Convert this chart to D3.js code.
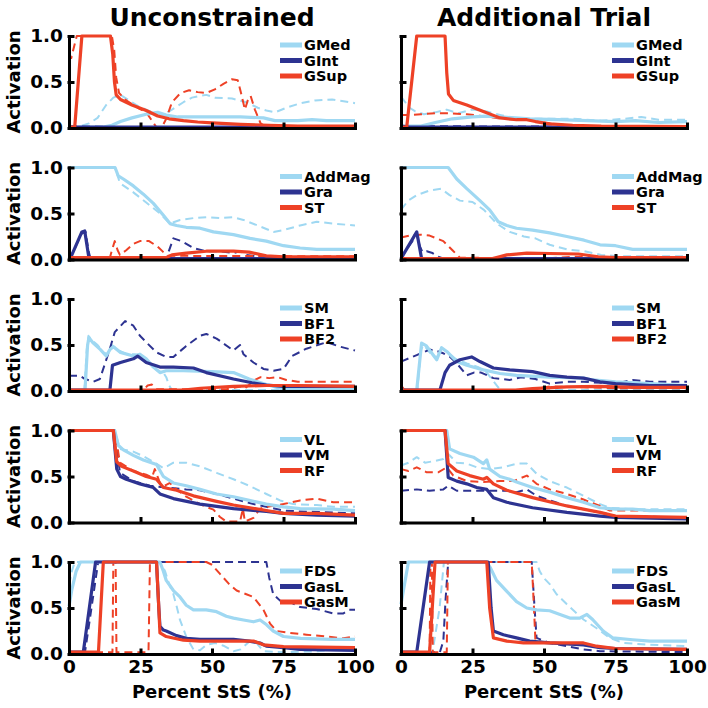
<!DOCTYPE html>
<html><head><meta charset="utf-8">
<script src="https://cdn.jsdelivr.net/npm/d3@7"></script>
<style>body{margin:0;background:#fff}svg{display:block}text{font-family:"DejaVu Sans",sans-serif;font-weight:bold;fill:#000}</style>
</head><body><svg id="c" width="708" height="708"></svg>
<script>
// ---------- categories / ticks ----------
const conditions = ["Unconstrained", "Additional Trial"];
const muscleRows = [["GMed","GInt","GSup"],["AddMag","Gra","ST"],["SM","BF1","BF2"],["VL","VM","RF"],["FDS","GasL","GasM"]];
const xTicks = [0,25,50,75,100];
const yTicks = [0,0.5,1.0];
const xLabel = "Percent StS (%)";
const yLabel = "Activation";

// ---------- data: [percent StS, activation] (s = solid, d = dashed) ----------
// Row 1 Unconstrained
const U_GMed_s=[[0,0.01],[12,0.01],[15,0.03],[18,0.07],[22,0.11],[27,0.15],[31,0.17],[34,0.14],[38,0.12],[50,0.12],[60,0.12],[68,0.11],[72,0.08],[80,0.08],[85,0.09],[90,0.08],[100,0.08]];
const U_GMed_d=[[0,0.01],[3,0.01],[7,0.05],[10,0.11],[13,0.25],[15.5,0.33],[18,0.36],[21,0.3],[24,0.24],[27,0.2],[30,0.16],[33,0.14],[36,0.2],[40,0.28],[43,0.33],[46,0.35],[48,0.36],[51,0.33],[57,0.32],[62,0.28],[66,0.22],[69,0.19],[72,0.17],[76,0.22],[81,0.27],[86,0.3],[92,0.31],[96,0.29],[100,0.27]];
const U_GInt_s=[[0,0.01],[100,0.01]];
const U_GInt_d=[[0,0.02],[20,0.01],[100,0.01]];
const U_GSup_s=[[0,0.01],[2,0.01],[4.5,1],[14.5,1],[15.3,0.8],[15.9,0.5],[16.5,0.36],[18,0.31],[22,0.25],[27,0.19],[31,0.13],[35,0.1],[40,0.08],[45,0.065],[50,0.055],[60,0.04],[70,0.03],[80,0.02],[100,0.02]];
const U_GSup_d=[[0,0.82],[0.8,0.76],[1.5,0.85],[2.7,1],[15,1],[15.8,0.85],[16.5,0.55],[17.5,0.38],[20,0.3],[24,0.22],[27,0.17],[29,0.08],[30.5,0.01],[32.5,0.01],[34,0.1],[36,0.28],[39,0.38],[42,0.41],[45,0.39],[48,0.38],[51,0.42],[54,0.48],[57,0.53],[59,0.52],[60,0.4],[61.5,0.2],[62.5,0.3],[63.5,0.35],[65,0.2],[67,0.05],[68.5,0.02],[100,0.02]];
// Row 1 Additional
const A_GMed_s=[[0,0.02],[7,0.02],[12,0.06],[18,0.1],[25,0.12],[30,0.13],[35,0.12],[40,0.11],[45,0.1],[55,0.09],[65,0.08],[75,0.07],[82,0.08],[90,0.06],[100,0.07]];
const A_GMed_d=[[0,0.34],[1.5,0.28],[3,0.22],[5,0.18],[8,0.15],[12,0.17],[16,0.2],[20,0.16],[25,0.2],[30,0.18],[35,0.14],[40,0.1],[50,0.1],[60,0.1],[70,0.08],[78,0.1],[84,0.12],[90,0.09],[100,0.09]];
const A_GInt_s=[[0,0.02],[3,0.01],[100,0.01]];
const A_GInt_d=[[0,0.02],[100,0.01]];
const A_GSup_s=[[0,0.01],[2,0.01],[5.5,1],[15.4,1],[16,0.6],[16.6,0.37],[18.3,0.3],[23,0.25],[28.8,0.18],[34.6,0.11],[40.4,0.09],[44,0.09],[47,0.07],[52,0.045],[60,0.03],[70,0.02],[100,0.015]];
const A_GSup_d=[[0,0.14],[3,0.14],[7,0.15],[12,0.16],[17,0.16],[23,0.15],[31,0.12],[35,0.1],[43,0.09],[46,0.08],[52,0.05],[58,0.03],[65,0.02],[100,0.02]];
// Row 2 Unconstrained
const U_AddMag_s=[[0,1],[16.1,1],[17.2,0.91],[19,0.875],[22.5,0.8],[26,0.71],[29.5,0.61],[33,0.48],[35.3,0.39],[37.6,0.37],[41,0.35],[45.8,0.34],[50.5,0.3],[57.5,0.27],[63.3,0.23],[69,0.2],[75,0.15],[80.8,0.125],[86.6,0.11],[100,0.11]];
const U_AddMag_d=[[0,1],[16.1,1],[17.8,0.83],[22.5,0.73],[27,0.62],[31.8,0.5],[35.3,0.39],[38.8,0.43],[43.5,0.45],[48,0.46],[52.8,0.45],[57.5,0.46],[61,0.43],[66.8,0.36],[71.5,0.3],[75,0.32],[80.8,0.37],[86.6,0.41],[92.4,0.39],[100,0.37]];
const U_Gra_s=[[0,0.01],[1,0.05],[4.5,0.3],[5.5,0.31],[6.3,0.15],[7,0.01],[100,0.01]];
const U_Gra_d=[[0,0.01],[1,0.05],[4.3,0.28],[5.8,0.3],[6.8,0.1],[7.5,0.01],[34,0.01],[35,0.1],[36.5,0.23],[39.4,0.2],[43.5,0.125],[48,0.09],[52.8,0.09],[57.5,0.07],[59.8,0.09],[62,0.05],[69,0.02],[100,0.02]];
const U_ST_s=[[0,0.02],[34,0.02],[36,0.05],[41,0.07],[48,0.09],[57.5,0.09],[63,0.08],[69,0.04],[75,0.03],[100,0.03]];
const U_ST_d=[[0,0.02],[14.3,0.02],[15,0.1],[16,0.2],[17,0.1],[17.8,0.05],[20,0.1],[22.5,0.17],[24.8,0.2],[28,0.2],[31,0.14],[33,0.08],[34.5,0.04],[100,0.035]];
// Row 2 Additional
const A_AddMag_s=[[0,1],[16.5,1],[19.5,0.875],[23,0.77],[27.6,0.64],[31,0.54],[34,0.41],[37,0.37],[40.4,0.34],[46,0.32],[52,0.29],[58,0.25],[64,0.21],[69.6,0.16],[75,0.15],[81,0.11],[87,0.11],[100,0.11]];
const A_AddMag_d=[[0,0.54],[2.5,0.64],[5.5,0.7],[10,0.75],[14,0.77],[17,0.7],[20.6,0.64],[25,0.625],[29,0.54],[33.5,0.39],[38,0.3],[43,0.25],[47,0.23],[52,0.16],[58,0.11],[64,0.09],[70,0.05],[76,0.035],[100,0.035]];
const A_Gra_s=[[0,0.01],[5.5,0.3],[7.2,0.01],[100,0.01]];
const A_Gra_d=[[0,0.02],[4,0.2],[5.5,0.28],[6.5,0.15],[7.5,0.08],[9,0.09],[11,0.07],[13,0.03],[15,0.01],[100,0.01]];
const A_ST_s=[[0,0.01],[32,0.01],[37,0.05],[44,0.07],[52,0.065],[62,0.06],[69,0.03],[75,0.02],[100,0.02]];
const A_ST_d=[[0,0.24],[3,0.26],[6.6,0.27],[10,0.26],[14.8,0.2],[18,0.1],[20.6,0.02],[50,0.01],[60,0.03],[70,0.02],[100,0.02]];
// Row 3 Unconstrained
const U_SM_s=[[0,0.01],[5.6,0.01],[6.5,0.5],[7,0.58],[8.5,0.52],[11,0.45],[13,0.38],[14.3,0.45],[15.5,0.48],[18,0.42],[22.5,0.38],[24.8,0.4],[27,0.35],[29.5,0.26],[31.8,0.2],[34,0.22],[40,0.22],[50,0.21],[57.5,0.2],[63,0.13],[69,0.07],[75,0.02],[100,0.02]];
const U_SM_d=[[0,0.01],[5.4,0.01],[6.2,0.45],[6.8,0.6],[8,0.55],[10,0.5],[12,0.42],[13.5,0.4],[15,0.5],[17,0.45],[20,0.4],[23,0.4],[25,0.38],[28,0.3],[31,0.22],[33,0.2],[34,0.15],[35,0.06],[36,0.01],[100,0.01]];
const U_BF1_s=[[0,0.01],[14.3,0.01],[15.2,0.28],[18,0.31],[22.5,0.35],[24,0.38],[27,0.31],[31.8,0.26],[36.5,0.26],[43.5,0.25],[48,0.2],[57.5,0.13],[64,0.09],[69,0.065],[75,0.05],[100,0.05]];
const U_BF1_d=[[0,0.165],[3.8,0.165],[5.6,0.13],[8.5,0.1],[10.8,0.13],[14.3,0.46],[16,0.64],[19.6,0.76],[22.5,0.71],[24.8,0.6],[27,0.53],[30.6,0.42],[34,0.37],[36.5,0.37],[41,0.49],[45.8,0.6],[48,0.62],[51.6,0.57],[57.5,0.44],[59.8,0.5],[61,0.4],[64.5,0.31],[68,0.24],[71.5,0.22],[75,0.24],[78,0.38],[83,0.46],[90,0.53],[95,0.48],[100,0.44]];
const U_BF2_s=[[0,0.01],[40,0.01],[46,0.03],[57.5,0.05],[69,0.06],[80,0.06],[100,0.05]];
const U_BF2_d=[[0,0.01],[26,0.01],[27.5,0.06],[29,0.07],[30.5,0.02],[55,0.02],[60,0.05],[61,0.08],[62,0.04],[65,0.12],[67,0.15],[70,0.14],[73,0.15],[76,0.12],[80,0.1],[100,0.1]];
// Row 3 Additional
const A_SM_s=[[0,0.01],[5.5,0.01],[7.2,0.52],[8.9,0.49],[12.5,0.34],[14.2,0.47],[16,0.43],[19.5,0.32],[23,0.28],[28.8,0.23],[34.6,0.19],[40.4,0.17],[52,0.15],[63.8,0.14],[67,0.12],[75,0.1],[87,0.08],[100,0.06]];
const A_SM_d=[[0,0.01],[5.7,0.01],[7,0.45],[8,0.5],[10,0.42],[12.5,0.36],[14,0.47],[15.5,0.44],[19,0.35],[23,0.3],[27,0.26],[30,0.2],[32,0.12],[34,0.04],[35,0.01],[100,0.01]];
const A_BF1_s=[[0,0.01],[13.6,0.01],[15.4,0.2],[17,0.28],[20.6,0.34],[24.7,0.37],[27.6,0.32],[32.3,0.25],[38,0.23],[46,0.21],[52,0.17],[58,0.15],[63.8,0.14],[69.6,0.1],[75,0.08],[87,0.06],[100,0.06]];
const A_BF1_d=[[0,0.32],[5.5,0.39],[10,0.45],[13,0.43],[14.8,0.41],[17,0.375],[19.5,0.3],[23,0.17],[25.5,0.2],[28,0.2],[32.3,0.14],[38,0.12],[42,0.15],[47,0.13],[52,0.08],[58,0.1],[63.8,0.1],[75,0.08],[81,0.12],[87,0.1],[100,0.1]];
const A_BF2_s=[[0,0.01],[40,0.01],[46,0.025],[58,0.045],[69.6,0.05],[81,0.04],[100,0.04]];
const A_BF2_d=[[0,0.06],[1,0.02],[2,0.01],[45,0.01],[52,0.05],[63.8,0.04],[75,0.03],[100,0.03]];
// Row 4 Unconstrained
const U_VL_s=[[0,1],[16,1],[17.2,0.84],[19,0.79],[22.5,0.73],[26,0.68],[30.6,0.63],[33,0.5],[36.5,0.43],[41,0.4],[45.8,0.36],[51.6,0.31],[57.5,0.28],[63,0.24],[69,0.2],[75,0.17],[80.8,0.15],[92.4,0.145],[100,0.13]];
const U_VL_d=[[0,1],[16,1],[17.8,0.8],[22.5,0.77],[26,0.72],[29.5,0.66],[33,0.59],[36.5,0.65],[41,0.65],[45.8,0.61],[51.6,0.54],[57.5,0.47],[63,0.4],[69,0.31],[73.8,0.24],[78.4,0.2],[86.6,0.19],[92.4,0.17],[100,0.17]];
const U_VM_s=[[0,1],[15.5,1],[16.7,0.58],[18,0.5],[20,0.47],[24.8,0.42],[29.5,0.38],[31.8,0.31],[36.5,0.26],[45.8,0.2],[57.5,0.15],[69,0.12],[75,0.1],[86.6,0.08],[100,0.07]];
const U_VM_d=[[0,1],[16,1],[17.8,0.54],[22.5,0.45],[28.3,0.4],[34,0.38],[41,0.36],[45.8,0.35],[51.6,0.31],[57.5,0.26],[64.5,0.2],[69,0.17],[75,0.13],[80.8,0.12],[100,0.1]];
const U_RF_s=[[0,1],[15.5,1],[16.7,0.66],[18.4,0.61],[22.5,0.56],[27,0.5],[30.6,0.47],[33,0.38],[37.6,0.35],[43.5,0.29],[51.6,0.23],[57.5,0.19],[69,0.13],[75,0.1],[86.6,0.1],[100,0.08]];
const U_RF_d=[[0,1],[16,1],[17.8,0.65],[22.5,0.56],[27,0.52],[29,0.49],[30,0.58],[31.8,0.43],[33.5,0.4],[35.3,0.43],[37.6,0.36],[41,0.28],[45.8,0.2],[48,0.17],[50.5,0.14],[52.8,0.06],[55,0.01],[59.8,0.01],[60.8,0.15],[61.5,0.01],[64.5,0.05],[66.8,0.15],[69,0.17],[75,0.2],[80.8,0.24],[86.6,0.26],[92.4,0.22],[100,0.22]];
// Row 4 Additional
const A_VL_s=[[0,1],[16,1],[17,0.8],[20.6,0.75],[25.3,0.71],[28.8,0.64],[30,0.68],[31,0.58],[34.6,0.5],[38,0.47],[40.4,0.44],[46,0.38],[52,0.33],[58,0.27],[63.8,0.22],[69.6,0.16],[75,0.145],[81,0.145],[87,0.13],[100,0.13]];
const A_VL_d=[[0,0.62],[2.6,0.65],[5.5,0.71],[8.4,0.65],[12,0.67],[14.8,0.69],[16.5,0.745],[19.5,0.65],[23,0.64],[26.5,0.6],[31,0.58],[35.8,0.6],[40.4,0.64],[44,0.64],[47.4,0.53],[52,0.45],[58,0.38],[63.8,0.29],[69.6,0.2],[73,0.16],[81,0.145],[100,0.145]];
const A_VM_s=[[0,1],[15.4,1],[16.5,0.49],[19.5,0.45],[23,0.42],[26.5,0.38],[30,0.36],[32.3,0.27],[37,0.22],[46,0.16],[58,0.11],[69.6,0.07],[75,0.055],[100,0.04]];
const A_VM_d=[[0,0.345],[5.5,0.36],[10,0.345],[14.8,0.36],[16.5,0.4],[19.5,0.345],[26.5,0.345],[37,0.345],[40.4,0.33],[44,0.36],[47.4,0.29],[52,0.24],[58,0.18],[63.8,0.145],[69.6,0.11],[75,0.07],[100,0.055]];
const A_RF_s=[[0,1],[15.4,1],[16.5,0.64],[19.5,0.56],[24,0.51],[28.8,0.47],[30,0.49],[32.3,0.42],[37,0.35],[46,0.27],[58,0.18],[69.6,0.11],[75,0.07],[100,0.055]];
const A_RF_d=[[0,0.58],[2.6,0.56],[5.5,0.6],[9,0.545],[13,0.545],[16,0.6],[18.3,0.51],[23,0.45],[28.8,0.44],[34.6,0.45],[39.4,0.45],[44,0.51],[47.4,0.42],[52,0.36],[58,0.31],[63.8,0.25],[69.6,0.18],[73,0.13],[81,0.13],[100,0.13]];
// Row 5 Unconstrained
const U_FDS_s=[[0,0.52],[1,0.7],[2.5,0.9],[4,1],[31.8,1],[33,0.9],[34,0.8],[36.5,0.69],[38.8,0.62],[41,0.53],[43.5,0.48],[48,0.48],[51.6,0.46],[55,0.41],[57.5,0.39],[61,0.37],[64.5,0.35],[66.8,0.37],[69,0.32],[71.4,0.25],[75,0.19],[81,0.17],[92,0.16],[100,0.16]];
const U_FDS_d=[[0,0.75],[1,0.9],[2,1],[31.8,1],[33.6,0.9],[35,0.76],[36.5,0.65],[37.7,0.51],[38.8,0.37],[41,0.19],[43.5,0.05],[45.8,0.04],[48,0.1],[51,0.12],[54,0.09],[57.5,0.03],[60,0.05],[63.3,0.14],[65.5,0.12],[68,0.03],[75,0.02],[87,0.03],[93,0.05],[100,0.04]];
const U_GasL_s=[[0,0.02],[5,0.02],[9.3,1],[30.6,1],[31.4,0.5],[31.8,0.3],[33,0.26],[34,0.25],[37.6,0.2],[41,0.17],[45.8,0.16],[57.5,0.16],[63,0.14],[66.8,0.12],[69,0.085],[75,0.07],[80.8,0.05],[100,0.04]];
const U_GasL_d=[[0,0.02],[5.6,0.02],[10.2,1],[69,1],[70,0.83],[71.4,0.65],[73.8,0.58],[77,0.57],[80.8,0.51],[86.6,0.49],[92.4,0.44],[95.8,0.44],[98,0.48],[100,0.48]];
const U_GasM_s=[[0,0.02],[10.3,0.02],[12,1],[30.6,1],[31.4,0.5],[31.8,0.23],[34,0.19],[40,0.15],[45.8,0.14],[57.5,0.14],[64.5,0.14],[68,0.1],[75,0.08],[100,0.07]];
const U_GasM_d=[[0,0.02],[15.2,0.02],[15.5,1],[16.3,1],[16.6,0.02],[27.8,0.02],[28.3,1],[48,1],[50,0.97],[52.8,0.87],[56,0.76],[58.6,0.69],[62,0.65],[64.5,0.62],[68,0.48],[70.3,0.33],[72.6,0.25],[77,0.23],[83,0.21],[90,0.19],[96,0.17],[100,0.19]];
// Row 5 Additional
const A_FDS_s=[[0,0.54],[2.6,1],[30,1],[31.2,0.94],[33.4,0.8],[37,0.68],[40.4,0.57],[44,0.5],[47.4,0.48],[52,0.47],[55.6,0.43],[59,0.39],[62.5,0.39],[65,0.43],[67,0.375],[70.7,0.25],[74,0.175],[81,0.155],[87,0.14],[100,0.14]];
const A_FDS_d=[[0,0.02],[11,0.02],[13.5,0.5],[15,1],[47.4,1],[48.5,0.9],[49.8,0.83],[52,0.76],[54.4,0.65],[58,0.54],[63.8,0.375],[68.4,0.28],[73,0.175],[77.7,0.12],[87,0.1],[100,0.085]];
const A_GasL_s=[[0,0.02],[5.5,0.02],[10,1],[30.5,1],[31.5,0.5],[32.3,0.25],[35.8,0.21],[40.4,0.175],[45,0.14],[52,0.12],[63.8,0.1],[69.6,0.07],[75,0.06],[100,0.05]];
const A_GasL_d=[[0,0.02],[13.6,0.02],[14.8,0.14],[15.6,0.6],[16.5,1],[45.7,1],[46.5,0.6],[47.4,0.175],[52,0.12],[58,0.085],[63.8,0.05],[69.6,0.03],[100,0.02]];
const A_GasM_s=[[0,0.02],[10,0.02],[11.9,1],[30,1],[31,0.5],[32.3,0.175],[37,0.14],[42.8,0.12],[52,0.12],[63.8,0.12],[68.4,0.085],[75,0.06],[100,0.05]];
const A_GasM_d=[[0,0.02],[10,0.02],[10.3,1],[10.8,1],[11.1,0.02],[16,0.02],[16.4,1],[45.7,1],[46.5,0.5],[47,0.14],[52,0.12],[63.8,0.1],[69.6,0.07],[75,0.06],[100,0.05]];

// lookup built from the named arrays
const series = {
 U:{GMed:[U_GMed_s,U_GMed_d],GInt:[U_GInt_s,U_GInt_d],GSup:[U_GSup_s,U_GSup_d],AddMag:[U_AddMag_s,U_AddMag_d],Gra:[U_Gra_s,U_Gra_d],ST:[U_ST_s,U_ST_d],SM:[U_SM_s,U_SM_d],BF1:[U_BF1_s,U_BF1_d],BF2:[U_BF2_s,U_BF2_d],VL:[U_VL_s,U_VL_d],VM:[U_VM_s,U_VM_d],RF:[U_RF_s,U_RF_d],FDS:[U_FDS_s,U_FDS_d],GasL:[U_GasL_s,U_GasL_d],GasM:[U_GasM_s,U_GasM_d]},
 A:{GMed:[A_GMed_s,A_GMed_d],GInt:[A_GInt_s,A_GInt_d],GSup:[A_GSup_s,A_GSup_d],AddMag:[A_AddMag_s,A_AddMag_d],Gra:[A_Gra_s,A_Gra_d],ST:[A_ST_s,A_ST_d],SM:[A_SM_s,A_SM_d],BF1:[A_BF1_s,A_BF1_d],BF2:[A_BF2_s,A_BF2_d],VL:[A_VL_s,A_VL_d],VM:[A_VM_s,A_VM_d],RF:[A_RF_s,A_RF_d],FDS:[A_FDS_s,A_FDS_d],GasL:[A_GasL_s,A_GasL_d],GasM:[A_GasM_s,A_GasM_d]}
};
const condKeys = ["U","A"];

// ---------- styles / layout ----------
const colors = ["#9fd8f2","#2d3391","#ee4126"];
const colLeft = [69, 401], plotW = 286, plotH = 92;
const rowTop = i => 36 + i*131.5;

const svg = d3.select("#c");

conditions.forEach((cond, c) => {
  const x0 = colLeft[c];
  svg.append("text").attr("x", x0 + plotW/2).attr("y", 26).attr("text-anchor","middle")
     .style("font-size","25px").text(cond);

  muscleRows.forEach((muscles, r) => {
    const top = rowTop(r);
    const x = d3.scaleLinear().domain([0,100]).range([x0, x0+plotW]);
    const y = d3.scaleLinear().domain([0,1]).range([top+plotH, top]);
    const g = svg.append("g");
    const line = d3.line().x(d=>x(d[0])).y(d=>y(d[1]));

    // dashed first, then solid
    [1,0].forEach(kind => {
      muscles.forEach((m, k) => {
        g.append("path").datum(series[condKeys[c]][m][kind])
         .attr("d", line).attr("fill","none").attr("stroke", colors[k])
         .attr("stroke-width", kind===0 ? 3.2 : 2)
         .attr("stroke-dasharray", kind===0 ? null : "8,5")
         .attr("stroke-linejoin","round");
      });
    });

    // axes
    const ya = d3.axisLeft(y).tickValues(yTicks).tickSizeInner(-4).tickSizeOuter(0).tickPadding(6)
      .tickFormat(c===0 ? d3.format(".1f") : () => "");
    const yg = svg.append("g").attr("transform",`translate(${x0},0)`).call(ya);
    const xa = d3.axisBottom(x).tickValues(xTicks).tickSizeInner(-4).tickSizeOuter(0).tickPadding(6)
      .tickFormat(r===muscleRows.length-1 ? d3.format("d") : () => "");
    const xg = svg.append("g").attr("transform",`translate(0,${top+plotH})`).call(xa);
    [yg, xg].forEach(a => {
      a.selectAll("path,line").attr("stroke","#000").attr("stroke-width",3).attr("stroke-linecap","square");
      a.selectAll("text").attr("fill","#000").style("font-size","18.5px").style("font-family","DejaVu Sans").style("font-weight","bold");
    });

    // legend
    const lx = x0 + 211;
    muscles.forEach((m, k) => {
      const ly = top + 9 + k*15.5;
      svg.append("line").attr("x1",lx).attr("x2",lx+22).attr("y1",ly).attr("y2",ly)
         .attr("stroke",colors[k]).attr("stroke-width",5);
      svg.append("text").attr("x",lx+24).attr("y",ly).attr("dy","0.36em")
         .style("font-size","14.5px").text(m);
    });

    if (c===0) {
      svg.append("text").attr("transform",`translate(20,${top+plotH/2}) rotate(-90)`)
         .attr("text-anchor","middle").style("font-size","18px").text(yLabel);
    }
  });

  svg.append("text").attr("x", x0 + plotW/2).attr("y", 698).attr("text-anchor","middle")
     .style("font-size","18px").text(xLabel);
});
</script></body></html>
